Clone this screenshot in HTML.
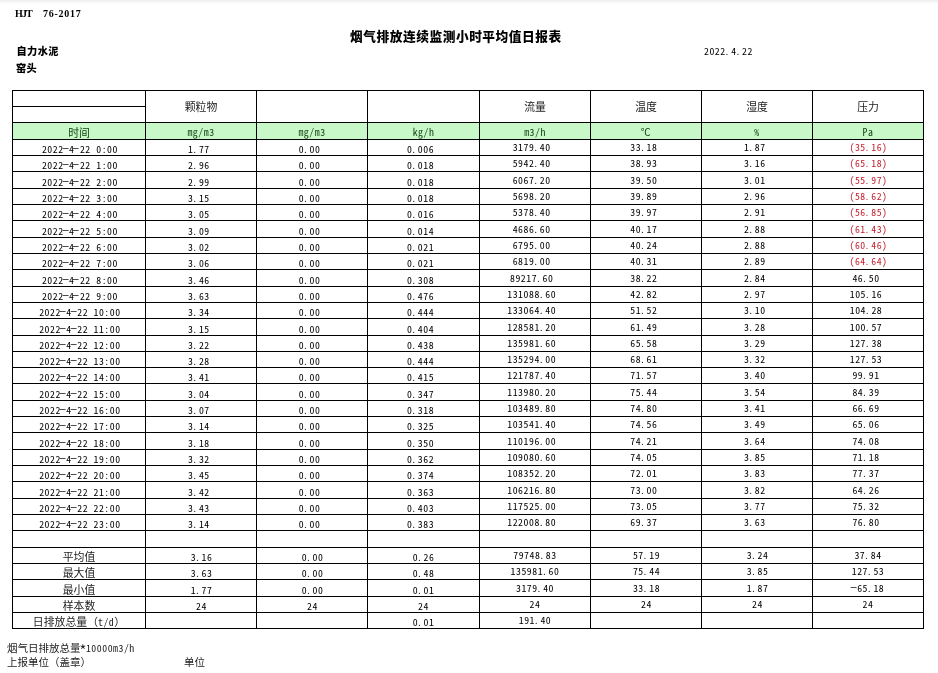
<!DOCTYPE html>
<html><head><meta charset="utf-8"><title>烟气排放连续监测小时平均值日报表</title>
<style>
html,body{margin:0;padding:0;background:#fff;}
body{width:938px;height:673px;overflow:hidden;position:relative;}
.top{position:absolute;left:0;top:0;width:938px;height:4px;background:linear-gradient(#efefef,#f6f6f6 50%,#fff);}
.g{position:absolute;left:0;top:0;}
.g rect{fill:#000;}
.g rect:first-child{fill:#c8f8c8;}
.t{position:absolute;width:200px;height:0;text-align:center;white-space:nowrap;line-height:0;}
.t span,.t{}
.d{font:9.8px "Noto Sans Mono CJK SC","IPAGothic",monospace;letter-spacing:0.53px;color:#000;}
.red{color:#c4202e;}
.p{position:relative;left:-1.2px;}
.h{display:inline-block;transform:translate(-0.5px,-1.8px) scaleX(2.1);}
.hc,.uc,.sl{font:10.86px "Noto Sans CJK SC",sans-serif;color:#222;}
.ua{font:9.8px "Noto Sans Mono CJK SC","IPAGothic",monospace;letter-spacing:0.53px;color:#0e3e0e;}
.uc{color:#0e3e0e !important;}
.abs{position:absolute;white-space:pre;line-height:0;}
.b{font-weight:bold;}
.cj{font:10.5px "Noto Sans CJK SC",sans-serif;color:#222;}
.ast{display:inline-block;transform:translate(-0.3px,2.2px) scale(1.5);}
.la{font:9.8px "Noto Sans Mono CJK SC","IPAGothic",monospace;letter-spacing:0.53px;}
</style></head><body>
<div class="top"></div>
<div class="abs b" style="left:15px;top:8px;font:bold 10px 'Liberation Serif',serif;letter-spacing:-0.9px">HJT</div>
<div class="abs b" style="left:43px;top:8px;font:bold 10px 'Liberation Serif',serif;letter-spacing:0.75px">76-2017</div>
<div class="abs b" style="left:350px;top:26px;font:900 12.7px 'Noto Sans CJK SC',sans-serif;letter-spacing:0.55px;">烟气排放连续监测小时平均值日报表</div>
<div class="abs" style="left:704px;top:44px;font:9.8px 'Noto Sans Mono CJK SC','IPAGothic',monospace;letter-spacing:0.53px;color:#000;">2022<span class="p">.</span>4<span class="p">.</span>22</div>
<div class="abs b" style="left:16.5px;top:42.5px;font:900 10.2px 'Noto Sans CJK SC',sans-serif;letter-spacing:0.4px">自力水泥</div>
<div class="abs b" style="left:16px;top:59.5px;font:900 10.2px 'Noto Sans CJK SC',sans-serif;letter-spacing:0.4px">窑头</div>
<svg class="g" width="938" height="673" viewBox="0 0 938 673"><rect x="12" y="122" width="911" height="17" fill="#c8f8c8"/><rect x="12" y="90" width="912" height="1"/><rect x="12" y="106" width="134" height="1"/><rect x="12" y="122" width="912" height="1"/><rect x="12" y="139" width="912" height="1"/><rect x="12" y="155" width="912" height="1"/><rect x="12" y="171" width="912" height="1"/><rect x="12" y="188" width="912" height="1"/><rect x="12" y="204" width="912" height="1"/><rect x="12" y="220" width="912" height="1"/><rect x="12" y="237" width="912" height="1"/><rect x="12" y="253" width="912" height="1"/><rect x="12" y="269" width="912" height="1"/><rect x="12" y="286" width="912" height="1"/><rect x="12" y="302" width="912" height="1"/><rect x="12" y="318" width="912" height="1"/><rect x="12" y="335" width="912" height="1"/><rect x="12" y="351" width="912" height="1"/><rect x="12" y="367" width="912" height="1"/><rect x="12" y="383" width="912" height="1"/><rect x="12" y="400" width="912" height="1"/><rect x="12" y="416" width="912" height="1"/><rect x="12" y="432" width="912" height="1"/><rect x="12" y="449" width="912" height="1"/><rect x="12" y="465" width="912" height="1"/><rect x="12" y="481" width="912" height="1"/><rect x="12" y="498" width="912" height="1"/><rect x="12" y="514" width="912" height="1"/><rect x="12" y="530" width="912" height="1"/><rect x="12" y="547" width="912" height="1"/><rect x="12" y="563" width="912" height="1"/><rect x="12" y="579" width="912" height="1"/><rect x="12" y="596" width="912" height="1"/><rect x="12" y="612" width="912" height="1"/><rect x="12" y="628" width="912" height="1"/><rect x="12" y="90" width="1" height="539"/><rect x="145" y="90" width="1" height="539"/><rect x="256" y="90" width="1" height="539"/><rect x="367" y="90" width="1" height="539"/><rect x="479" y="90" width="1" height="539"/><rect x="590" y="90" width="1" height="539"/><rect x="701" y="90" width="1" height="539"/><rect x="812" y="90" width="1" height="539"/><rect x="923" y="90" width="1" height="539"/></svg>
<div class="t hc" style="left:101.00px;top:98px">颗粒物</div><div class="t hc" style="left:435.00px;top:98px">流量</div><div class="t hc" style="left:546.00px;top:98px">温度</div><div class="t hc" style="left:657.00px;top:98px">湿度</div><div class="t hc" style="left:768.00px;top:98px">压力</div><div class="t uc" style="left:-21.00px;top:124px">时间</div><div class="t ua" style="left:101.00px;top:125px">mg/m3</div><div class="t ua" style="left:212.00px;top:125px">mg/m3</div><div class="t ua" style="left:323.50px;top:125px">kg/h</div><div class="t ua" style="left:435.00px;top:125px">m3/h</div><div class="t ua" style="left:546.00px;top:125px">℃</div><div class="t ua" style="left:657.00px;top:125px">%</div><div class="t ua" style="left:768.00px;top:125px">Pa</div><div class="t d" style="left:-20.10px;top:142px">2022<span class="h">-</span>4<span class="h">-</span>22&nbsp;0:00</div><div class="t d" style="left:98.90px;top:142px">1<span class="p">.</span>77</div><div class="t d" style="left:209.60px;top:142px">0<span class="p">.</span>00</div><div class="t d" style="left:320.50px;top:142px">0<span class="p">.</span>006</div><div class="t d" style="left:431.70px;top:140px">3179<span class="p">.</span>40</div><div class="t d" style="left:543.90px;top:140px">33<span class="p">.</span>18</div><div class="t d" style="left:654.80px;top:140px">1<span class="p">.</span>87</div><div class="t d red" style="left:768.50px;top:140px">(35<span class="p">.</span>16)</div><div class="t d" style="left:-20.10px;top:158px">2022<span class="h">-</span>4<span class="h">-</span>22&nbsp;1:00</div><div class="t d" style="left:98.90px;top:158px">2<span class="p">.</span>96</div><div class="t d" style="left:209.60px;top:158px">0<span class="p">.</span>00</div><div class="t d" style="left:320.50px;top:158px">0<span class="p">.</span>018</div><div class="t d" style="left:431.70px;top:156px">5942<span class="p">.</span>40</div><div class="t d" style="left:543.90px;top:156px">38<span class="p">.</span>93</div><div class="t d" style="left:654.80px;top:156px">3<span class="p">.</span>16</div><div class="t d red" style="left:768.50px;top:156px">(65<span class="p">.</span>18)</div><div class="t d" style="left:-20.10px;top:175px">2022<span class="h">-</span>4<span class="h">-</span>22&nbsp;2:00</div><div class="t d" style="left:98.90px;top:175px">2<span class="p">.</span>99</div><div class="t d" style="left:209.60px;top:175px">0<span class="p">.</span>00</div><div class="t d" style="left:320.50px;top:175px">0<span class="p">.</span>018</div><div class="t d" style="left:431.70px;top:173px">6067<span class="p">.</span>20</div><div class="t d" style="left:543.90px;top:173px">39<span class="p">.</span>50</div><div class="t d" style="left:654.80px;top:173px">3<span class="p">.</span>01</div><div class="t d red" style="left:768.50px;top:173px">(55<span class="p">.</span>97)</div><div class="t d" style="left:-20.10px;top:191px">2022<span class="h">-</span>4<span class="h">-</span>22&nbsp;3:00</div><div class="t d" style="left:98.90px;top:191px">3<span class="p">.</span>15</div><div class="t d" style="left:209.60px;top:191px">0<span class="p">.</span>00</div><div class="t d" style="left:320.50px;top:191px">0<span class="p">.</span>018</div><div class="t d" style="left:431.70px;top:189px">5698<span class="p">.</span>20</div><div class="t d" style="left:543.90px;top:189px">39<span class="p">.</span>89</div><div class="t d" style="left:654.80px;top:189px">2<span class="p">.</span>96</div><div class="t d red" style="left:768.50px;top:189px">(58<span class="p">.</span>62)</div><div class="t d" style="left:-20.10px;top:207px">2022<span class="h">-</span>4<span class="h">-</span>22&nbsp;4:00</div><div class="t d" style="left:98.90px;top:207px">3<span class="p">.</span>05</div><div class="t d" style="left:209.60px;top:207px">0<span class="p">.</span>00</div><div class="t d" style="left:320.50px;top:207px">0<span class="p">.</span>016</div><div class="t d" style="left:431.70px;top:205px">5378<span class="p">.</span>40</div><div class="t d" style="left:543.90px;top:205px">39<span class="p">.</span>97</div><div class="t d" style="left:654.80px;top:205px">2<span class="p">.</span>91</div><div class="t d red" style="left:768.50px;top:205px">(56<span class="p">.</span>85)</div><div class="t d" style="left:-20.10px;top:224px">2022<span class="h">-</span>4<span class="h">-</span>22&nbsp;5:00</div><div class="t d" style="left:98.90px;top:224px">3<span class="p">.</span>09</div><div class="t d" style="left:209.60px;top:224px">0<span class="p">.</span>00</div><div class="t d" style="left:320.50px;top:224px">0<span class="p">.</span>014</div><div class="t d" style="left:431.70px;top:222px">4686<span class="p">.</span>60</div><div class="t d" style="left:543.90px;top:222px">40<span class="p">.</span>17</div><div class="t d" style="left:654.80px;top:222px">2<span class="p">.</span>88</div><div class="t d red" style="left:768.50px;top:222px">(61<span class="p">.</span>43)</div><div class="t d" style="left:-20.10px;top:240px">2022<span class="h">-</span>4<span class="h">-</span>22&nbsp;6:00</div><div class="t d" style="left:98.90px;top:240px">3<span class="p">.</span>02</div><div class="t d" style="left:209.60px;top:240px">0<span class="p">.</span>00</div><div class="t d" style="left:320.50px;top:240px">0<span class="p">.</span>021</div><div class="t d" style="left:431.70px;top:238px">6795<span class="p">.</span>00</div><div class="t d" style="left:543.90px;top:238px">40<span class="p">.</span>24</div><div class="t d" style="left:654.80px;top:238px">2<span class="p">.</span>88</div><div class="t d red" style="left:768.50px;top:238px">(60<span class="p">.</span>46)</div><div class="t d" style="left:-20.10px;top:256px">2022<span class="h">-</span>4<span class="h">-</span>22&nbsp;7:00</div><div class="t d" style="left:98.90px;top:256px">3<span class="p">.</span>06</div><div class="t d" style="left:209.60px;top:256px">0<span class="p">.</span>00</div><div class="t d" style="left:320.50px;top:256px">0<span class="p">.</span>021</div><div class="t d" style="left:431.70px;top:254px">6819<span class="p">.</span>00</div><div class="t d" style="left:543.90px;top:254px">40<span class="p">.</span>31</div><div class="t d" style="left:654.80px;top:254px">2<span class="p">.</span>89</div><div class="t d red" style="left:768.50px;top:254px">(64<span class="p">.</span>64)</div><div class="t d" style="left:-20.10px;top:273px">2022<span class="h">-</span>4<span class="h">-</span>22&nbsp;8:00</div><div class="t d" style="left:98.90px;top:273px">3<span class="p">.</span>46</div><div class="t d" style="left:209.60px;top:273px">0<span class="p">.</span>00</div><div class="t d" style="left:320.50px;top:273px">0<span class="p">.</span>308</div><div class="t d" style="left:431.70px;top:271px">89217<span class="p">.</span>60</div><div class="t d" style="left:543.90px;top:271px">38<span class="p">.</span>22</div><div class="t d" style="left:654.80px;top:271px">2<span class="p">.</span>84</div><div class="t d" style="left:766.00px;top:271px">46<span class="p">.</span>50</div><div class="t d" style="left:-20.10px;top:289px">2022<span class="h">-</span>4<span class="h">-</span>22&nbsp;9:00</div><div class="t d" style="left:98.90px;top:289px">3<span class="p">.</span>63</div><div class="t d" style="left:209.60px;top:289px">0<span class="p">.</span>00</div><div class="t d" style="left:320.50px;top:289px">0<span class="p">.</span>476</div><div class="t d" style="left:431.70px;top:287px">131088<span class="p">.</span>60</div><div class="t d" style="left:543.90px;top:287px">42<span class="p">.</span>82</div><div class="t d" style="left:654.80px;top:287px">2<span class="p">.</span>97</div><div class="t d" style="left:766.00px;top:287px">105<span class="p">.</span>16</div><div class="t d" style="left:-20.10px;top:305px">2022<span class="h">-</span>4<span class="h">-</span>22&nbsp;10:00</div><div class="t d" style="left:98.90px;top:305px">3<span class="p">.</span>34</div><div class="t d" style="left:209.60px;top:305px">0<span class="p">.</span>00</div><div class="t d" style="left:320.50px;top:305px">0<span class="p">.</span>444</div><div class="t d" style="left:431.70px;top:303px">133064<span class="p">.</span>40</div><div class="t d" style="left:543.90px;top:303px">51<span class="p">.</span>52</div><div class="t d" style="left:654.80px;top:303px">3<span class="p">.</span>10</div><div class="t d" style="left:766.00px;top:303px">104<span class="p">.</span>28</div><div class="t d" style="left:-20.10px;top:322px">2022<span class="h">-</span>4<span class="h">-</span>22&nbsp;11:00</div><div class="t d" style="left:98.90px;top:322px">3<span class="p">.</span>15</div><div class="t d" style="left:209.60px;top:322px">0<span class="p">.</span>00</div><div class="t d" style="left:320.50px;top:322px">0<span class="p">.</span>404</div><div class="t d" style="left:431.70px;top:320px">128581<span class="p">.</span>20</div><div class="t d" style="left:543.90px;top:320px">61<span class="p">.</span>49</div><div class="t d" style="left:654.80px;top:320px">3<span class="p">.</span>28</div><div class="t d" style="left:766.00px;top:320px">100<span class="p">.</span>57</div><div class="t d" style="left:-20.10px;top:338px">2022<span class="h">-</span>4<span class="h">-</span>22&nbsp;12:00</div><div class="t d" style="left:98.90px;top:338px">3<span class="p">.</span>22</div><div class="t d" style="left:209.60px;top:338px">0<span class="p">.</span>00</div><div class="t d" style="left:320.50px;top:338px">0<span class="p">.</span>438</div><div class="t d" style="left:431.70px;top:336px">135981<span class="p">.</span>60</div><div class="t d" style="left:543.90px;top:336px">65<span class="p">.</span>58</div><div class="t d" style="left:654.80px;top:336px">3<span class="p">.</span>29</div><div class="t d" style="left:766.00px;top:336px">127<span class="p">.</span>38</div><div class="t d" style="left:-20.10px;top:354px">2022<span class="h">-</span>4<span class="h">-</span>22&nbsp;13:00</div><div class="t d" style="left:98.90px;top:354px">3<span class="p">.</span>28</div><div class="t d" style="left:209.60px;top:354px">0<span class="p">.</span>00</div><div class="t d" style="left:320.50px;top:354px">0<span class="p">.</span>444</div><div class="t d" style="left:431.70px;top:352px">135294<span class="p">.</span>00</div><div class="t d" style="left:543.90px;top:352px">68<span class="p">.</span>61</div><div class="t d" style="left:654.80px;top:352px">3<span class="p">.</span>32</div><div class="t d" style="left:766.00px;top:352px">127<span class="p">.</span>53</div><div class="t d" style="left:-20.10px;top:370px">2022<span class="h">-</span>4<span class="h">-</span>22&nbsp;14:00</div><div class="t d" style="left:98.90px;top:370px">3<span class="p">.</span>41</div><div class="t d" style="left:209.60px;top:370px">0<span class="p">.</span>00</div><div class="t d" style="left:320.50px;top:370px">0<span class="p">.</span>415</div><div class="t d" style="left:431.70px;top:368px">121787<span class="p">.</span>40</div><div class="t d" style="left:543.90px;top:368px">71<span class="p">.</span>57</div><div class="t d" style="left:654.80px;top:368px">3<span class="p">.</span>40</div><div class="t d" style="left:766.00px;top:368px">99<span class="p">.</span>91</div><div class="t d" style="left:-20.10px;top:387px">2022<span class="h">-</span>4<span class="h">-</span>22&nbsp;15:00</div><div class="t d" style="left:98.90px;top:387px">3<span class="p">.</span>04</div><div class="t d" style="left:209.60px;top:387px">0<span class="p">.</span>00</div><div class="t d" style="left:320.50px;top:387px">0<span class="p">.</span>347</div><div class="t d" style="left:431.70px;top:385px">113980<span class="p">.</span>20</div><div class="t d" style="left:543.90px;top:385px">75<span class="p">.</span>44</div><div class="t d" style="left:654.80px;top:385px">3<span class="p">.</span>54</div><div class="t d" style="left:766.00px;top:385px">84<span class="p">.</span>39</div><div class="t d" style="left:-20.10px;top:403px">2022<span class="h">-</span>4<span class="h">-</span>22&nbsp;16:00</div><div class="t d" style="left:98.90px;top:403px">3<span class="p">.</span>07</div><div class="t d" style="left:209.60px;top:403px">0<span class="p">.</span>00</div><div class="t d" style="left:320.50px;top:403px">0<span class="p">.</span>318</div><div class="t d" style="left:431.70px;top:401px">103489<span class="p">.</span>80</div><div class="t d" style="left:543.90px;top:401px">74<span class="p">.</span>80</div><div class="t d" style="left:654.80px;top:401px">3<span class="p">.</span>41</div><div class="t d" style="left:766.00px;top:401px">66<span class="p">.</span>69</div><div class="t d" style="left:-20.10px;top:419px">2022<span class="h">-</span>4<span class="h">-</span>22&nbsp;17:00</div><div class="t d" style="left:98.90px;top:419px">3<span class="p">.</span>14</div><div class="t d" style="left:209.60px;top:419px">0<span class="p">.</span>00</div><div class="t d" style="left:320.50px;top:419px">0<span class="p">.</span>325</div><div class="t d" style="left:431.70px;top:417px">103541<span class="p">.</span>40</div><div class="t d" style="left:543.90px;top:417px">74<span class="p">.</span>56</div><div class="t d" style="left:654.80px;top:417px">3<span class="p">.</span>49</div><div class="t d" style="left:766.00px;top:417px">65<span class="p">.</span>06</div><div class="t d" style="left:-20.10px;top:436px">2022<span class="h">-</span>4<span class="h">-</span>22&nbsp;18:00</div><div class="t d" style="left:98.90px;top:436px">3<span class="p">.</span>18</div><div class="t d" style="left:209.60px;top:436px">0<span class="p">.</span>00</div><div class="t d" style="left:320.50px;top:436px">0<span class="p">.</span>350</div><div class="t d" style="left:431.70px;top:434px">110196<span class="p">.</span>00</div><div class="t d" style="left:543.90px;top:434px">74<span class="p">.</span>21</div><div class="t d" style="left:654.80px;top:434px">3<span class="p">.</span>64</div><div class="t d" style="left:766.00px;top:434px">74<span class="p">.</span>08</div><div class="t d" style="left:-20.10px;top:452px">2022<span class="h">-</span>4<span class="h">-</span>22&nbsp;19:00</div><div class="t d" style="left:98.90px;top:452px">3<span class="p">.</span>32</div><div class="t d" style="left:209.60px;top:452px">0<span class="p">.</span>00</div><div class="t d" style="left:320.50px;top:452px">0<span class="p">.</span>362</div><div class="t d" style="left:431.70px;top:450px">109080<span class="p">.</span>60</div><div class="t d" style="left:543.90px;top:450px">74<span class="p">.</span>05</div><div class="t d" style="left:654.80px;top:450px">3<span class="p">.</span>85</div><div class="t d" style="left:766.00px;top:450px">71<span class="p">.</span>18</div><div class="t d" style="left:-20.10px;top:468px">2022<span class="h">-</span>4<span class="h">-</span>22&nbsp;20:00</div><div class="t d" style="left:98.90px;top:468px">3<span class="p">.</span>45</div><div class="t d" style="left:209.60px;top:468px">0<span class="p">.</span>00</div><div class="t d" style="left:320.50px;top:468px">0<span class="p">.</span>374</div><div class="t d" style="left:431.70px;top:466px">108352<span class="p">.</span>20</div><div class="t d" style="left:543.90px;top:466px">72<span class="p">.</span>01</div><div class="t d" style="left:654.80px;top:466px">3<span class="p">.</span>83</div><div class="t d" style="left:766.00px;top:466px">77<span class="p">.</span>37</div><div class="t d" style="left:-20.10px;top:485px">2022<span class="h">-</span>4<span class="h">-</span>22&nbsp;21:00</div><div class="t d" style="left:98.90px;top:485px">3<span class="p">.</span>42</div><div class="t d" style="left:209.60px;top:485px">0<span class="p">.</span>00</div><div class="t d" style="left:320.50px;top:485px">0<span class="p">.</span>363</div><div class="t d" style="left:431.70px;top:483px">106216<span class="p">.</span>80</div><div class="t d" style="left:543.90px;top:483px">73<span class="p">.</span>00</div><div class="t d" style="left:654.80px;top:483px">3<span class="p">.</span>82</div><div class="t d" style="left:766.00px;top:483px">64<span class="p">.</span>26</div><div class="t d" style="left:-20.10px;top:501px">2022<span class="h">-</span>4<span class="h">-</span>22&nbsp;22:00</div><div class="t d" style="left:98.90px;top:501px">3<span class="p">.</span>43</div><div class="t d" style="left:209.60px;top:501px">0<span class="p">.</span>00</div><div class="t d" style="left:320.50px;top:501px">0<span class="p">.</span>403</div><div class="t d" style="left:431.70px;top:499px">117525<span class="p">.</span>00</div><div class="t d" style="left:543.90px;top:499px">73<span class="p">.</span>05</div><div class="t d" style="left:654.80px;top:499px">3<span class="p">.</span>77</div><div class="t d" style="left:766.00px;top:499px">75<span class="p">.</span>32</div><div class="t d" style="left:-20.10px;top:517px">2022<span class="h">-</span>4<span class="h">-</span>22&nbsp;23:00</div><div class="t d" style="left:98.90px;top:517px">3<span class="p">.</span>14</div><div class="t d" style="left:209.60px;top:517px">0<span class="p">.</span>00</div><div class="t d" style="left:320.50px;top:517px">0<span class="p">.</span>383</div><div class="t d" style="left:431.70px;top:515px">122008<span class="p">.</span>80</div><div class="t d" style="left:543.90px;top:515px">69<span class="p">.</span>37</div><div class="t d" style="left:654.80px;top:515px">3<span class="p">.</span>63</div><div class="t d" style="left:766.00px;top:515px">76<span class="p">.</span>80</div><div class="t sl" style="left:-21.00px;top:548px">平均值</div><div class="t d" style="left:101.50px;top:550px">3<span class="p">.</span>16</div><div class="t d" style="left:212.50px;top:550px">0<span class="p">.</span>00</div><div class="t d" style="left:323.50px;top:550px">0<span class="p">.</span>26</div><div class="t d" style="left:435.00px;top:548px">79748<span class="p">.</span>83</div><div class="t d" style="left:546.50px;top:548px">57<span class="p">.</span>19</div><div class="t d" style="left:657.50px;top:548px">3<span class="p">.</span>24</div><div class="t d" style="left:768.00px;top:548px">37<span class="p">.</span>84</div><div class="t sl" style="left:-21.00px;top:564px">最大值</div><div class="t d" style="left:101.50px;top:566px">3<span class="p">.</span>63</div><div class="t d" style="left:212.50px;top:566px">0<span class="p">.</span>00</div><div class="t d" style="left:323.50px;top:566px">0<span class="p">.</span>48</div><div class="t d" style="left:435.00px;top:564px">135981<span class="p">.</span>60</div><div class="t d" style="left:546.50px;top:564px">75<span class="p">.</span>44</div><div class="t d" style="left:657.50px;top:564px">3<span class="p">.</span>85</div><div class="t d" style="left:768.00px;top:564px">127<span class="p">.</span>53</div><div class="t sl" style="left:-21.00px;top:581px">最小值</div><div class="t d" style="left:101.50px;top:583px">1<span class="p">.</span>77</div><div class="t d" style="left:212.50px;top:583px">0<span class="p">.</span>00</div><div class="t d" style="left:323.50px;top:583px">0<span class="p">.</span>01</div><div class="t d" style="left:435.00px;top:581px">3179<span class="p">.</span>40</div><div class="t d" style="left:546.50px;top:581px">33<span class="p">.</span>18</div><div class="t d" style="left:657.50px;top:581px">1<span class="p">.</span>87</div><div class="t d" style="left:768.00px;top:581px"><span class="h">-</span>65<span class="p">.</span>18</div><div class="t sl" style="left:-21.00px;top:597px">样本数</div><div class="t d" style="left:101.50px;top:599px">24</div><div class="t d" style="left:212.50px;top:599px">24</div><div class="t d" style="left:323.50px;top:599px">24</div><div class="t d" style="left:435.00px;top:597px">24</div><div class="t d" style="left:546.50px;top:597px">24</div><div class="t d" style="left:657.50px;top:597px">24</div><div class="t d" style="left:768.00px;top:597px">24</div><div class="t sl" style="left:-21.00px;top:613px">日排放总量（<span class=la>t/d</span>）</div><div class="t d" style="left:323.50px;top:615px">0<span class="p">.</span>01</div><div class="t d" style="left:435.00px;top:613px">191<span class="p">.</span>40</div>
<div class="abs cj" style="left:7px;top:640px;">烟气日排放总量<span class="la"><span class="ast">*</span>10000m3/h</span></div>
<div class="abs cj" style="left:7px;top:654px;">上报单位（盖章）</div>
<div class="abs cj" style="left:184px;top:654px;">单位</div>
</body></html>
